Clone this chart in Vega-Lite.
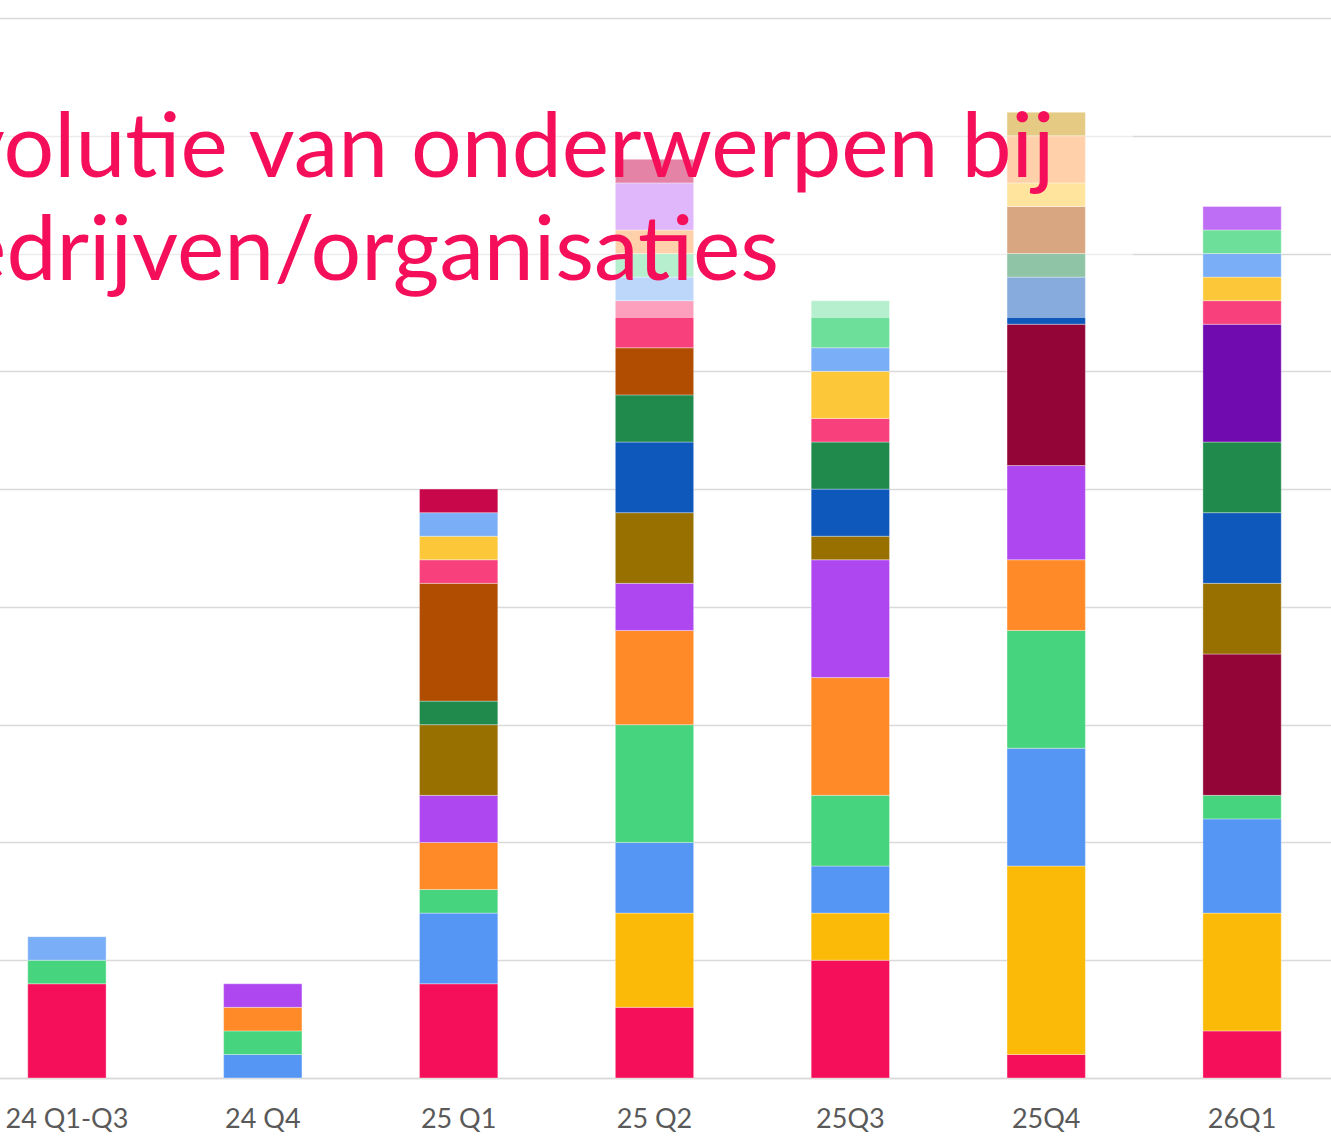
{
  "$schema": "https://vega.github.io/schema/vega-lite/v6.json",
  "width": 1371,
  "height": 1060,
  "autosize": {"type": "none"},
  "padding": {"left": -31, "top": 18, "right": 0, "bottom": 65},
  "background": "white",
  "title": {
    "text": ["Evolutie van onderwerpen bij", "bedrijven/organisaties"],
    "anchor": "start",
    "frame": "group",
    "align": "left",
    "baseline": "alphabetic",
    "font": "Lato",
    "fontSize": 89.5,
    "fontWeight": "normal",
    "color": "#F50F5A",
    "lineHeight": 103,
    "offset": 0,
    "dx": -60,
    "dy": 351,
    "zindex": 1
  },
  "datasets": {
    "bars": [
      {"kwartaal": "24 Q1-Q3", "reeks": "Reeks 1", "nr": 1, "aantal": 4},
      {"kwartaal": "24 Q1-Q3", "reeks": "Reeks 4", "nr": 4, "aantal": 1},
      {"kwartaal": "24 Q1-Q3", "reeks": "Reeks 15", "nr": 15, "aantal": 1},

      {"kwartaal": "24 Q4", "reeks": "Reeks 3", "nr": 3, "aantal": 1},
      {"kwartaal": "24 Q4", "reeks": "Reeks 4", "nr": 4, "aantal": 1},
      {"kwartaal": "24 Q4", "reeks": "Reeks 5", "nr": 5, "aantal": 1},
      {"kwartaal": "24 Q4", "reeks": "Reeks 6", "nr": 6, "aantal": 1},

      {"kwartaal": "25 Q1", "reeks": "Reeks 1", "nr": 1, "aantal": 4},
      {"kwartaal": "25 Q1", "reeks": "Reeks 3", "nr": 3, "aantal": 3},
      {"kwartaal": "25 Q1", "reeks": "Reeks 4", "nr": 4, "aantal": 1},
      {"kwartaal": "25 Q1", "reeks": "Reeks 5", "nr": 5, "aantal": 2},
      {"kwartaal": "25 Q1", "reeks": "Reeks 6", "nr": 6, "aantal": 2},
      {"kwartaal": "25 Q1", "reeks": "Reeks 8", "nr": 8, "aantal": 3},
      {"kwartaal": "25 Q1", "reeks": "Reeks 10", "nr": 10, "aantal": 1},
      {"kwartaal": "25 Q1", "reeks": "Reeks 11", "nr": 11, "aantal": 5},
      {"kwartaal": "25 Q1", "reeks": "Reeks 13", "nr": 13, "aantal": 1},
      {"kwartaal": "25 Q1", "reeks": "Reeks 14", "nr": 14, "aantal": 1},
      {"kwartaal": "25 Q1", "reeks": "Reeks 15", "nr": 15, "aantal": 1},
      {"kwartaal": "25 Q1", "reeks": "Reeks 19", "nr": 19, "aantal": 1},

      {"kwartaal": "25 Q2", "reeks": "Reeks 1", "nr": 1, "aantal": 3},
      {"kwartaal": "25 Q2", "reeks": "Reeks 2", "nr": 2, "aantal": 4},
      {"kwartaal": "25 Q2", "reeks": "Reeks 3", "nr": 3, "aantal": 3},
      {"kwartaal": "25 Q2", "reeks": "Reeks 4", "nr": 4, "aantal": 5},
      {"kwartaal": "25 Q2", "reeks": "Reeks 5", "nr": 5, "aantal": 4},
      {"kwartaal": "25 Q2", "reeks": "Reeks 6", "nr": 6, "aantal": 2},
      {"kwartaal": "25 Q2", "reeks": "Reeks 8", "nr": 8, "aantal": 3},
      {"kwartaal": "25 Q2", "reeks": "Reeks 9", "nr": 9, "aantal": 3},
      {"kwartaal": "25 Q2", "reeks": "Reeks 10", "nr": 10, "aantal": 2},
      {"kwartaal": "25 Q2", "reeks": "Reeks 11", "nr": 11, "aantal": 2},
      {"kwartaal": "25 Q2", "reeks": "Reeks 13", "nr": 13, "aantal": 2},
      {"kwartaal": "25 Q2", "reeks": "Reeks 15", "nr": 15, "aantal": 1},
      {"kwartaal": "25 Q2", "reeks": "Reeks 16", "nr": 16, "aantal": 1},
      {"kwartaal": "25 Q2", "reeks": "Reeks 17", "nr": 17, "aantal": 1},
      {"kwartaal": "25 Q2", "reeks": "Reeks 18", "nr": 18, "aantal": 2},
      {"kwartaal": "25 Q2", "reeks": "Reeks 19", "nr": 19, "aantal": 1},

      {"kwartaal": "25Q3", "reeks": "Reeks 1", "nr": 1, "aantal": 5},
      {"kwartaal": "25Q3", "reeks": "Reeks 2", "nr": 2, "aantal": 2},
      {"kwartaal": "25Q3", "reeks": "Reeks 3", "nr": 3, "aantal": 2},
      {"kwartaal": "25Q3", "reeks": "Reeks 4", "nr": 4, "aantal": 3},
      {"kwartaal": "25Q3", "reeks": "Reeks 5", "nr": 5, "aantal": 5},
      {"kwartaal": "25Q3", "reeks": "Reeks 6", "nr": 6, "aantal": 5},
      {"kwartaal": "25Q3", "reeks": "Reeks 8", "nr": 8, "aantal": 1},
      {"kwartaal": "25Q3", "reeks": "Reeks 9", "nr": 9, "aantal": 2},
      {"kwartaal": "25Q3", "reeks": "Reeks 10", "nr": 10, "aantal": 2},
      {"kwartaal": "25Q3", "reeks": "Reeks 13", "nr": 13, "aantal": 1},
      {"kwartaal": "25Q3", "reeks": "Reeks 14", "nr": 14, "aantal": 2},
      {"kwartaal": "25Q3", "reeks": "Reeks 15", "nr": 15, "aantal": 1},
      {"kwartaal": "25Q3", "reeks": "Reeks 16", "nr": 16, "aantal": 2},

      {"kwartaal": "25Q4", "reeks": "Reeks 1", "nr": 1, "aantal": 1},
      {"kwartaal": "25Q4", "reeks": "Reeks 2", "nr": 2, "aantal": 8},
      {"kwartaal": "25Q4", "reeks": "Reeks 3", "nr": 3, "aantal": 5},
      {"kwartaal": "25Q4", "reeks": "Reeks 4", "nr": 4, "aantal": 5},
      {"kwartaal": "25Q4", "reeks": "Reeks 5", "nr": 5, "aantal": 3},
      {"kwartaal": "25Q4", "reeks": "Reeks 6", "nr": 6, "aantal": 4},
      {"kwartaal": "25Q4", "reeks": "Reeks 7", "nr": 7, "aantal": 6},
      {"kwartaal": "25Q4", "reeks": "Reeks 9", "nr": 9, "aantal": 2},
      {"kwartaal": "25Q4", "reeks": "Reeks 10", "nr": 10, "aantal": 1},
      {"kwartaal": "25Q4", "reeks": "Reeks 11", "nr": 11, "aantal": 2},
      {"kwartaal": "25Q4", "reeks": "Reeks 14", "nr": 14, "aantal": 1},
      {"kwartaal": "25Q4", "reeks": "Reeks 17", "nr": 17, "aantal": 2},
      {"kwartaal": "25Q4", "reeks": "Reeks 20", "nr": 20, "aantal": 1},

      {"kwartaal": "26Q1", "reeks": "Reeks 1", "nr": 1, "aantal": 2},
      {"kwartaal": "26Q1", "reeks": "Reeks 2", "nr": 2, "aantal": 5},
      {"kwartaal": "26Q1", "reeks": "Reeks 3", "nr": 3, "aantal": 4},
      {"kwartaal": "26Q1", "reeks": "Reeks 4", "nr": 4, "aantal": 1},
      {"kwartaal": "26Q1", "reeks": "Reeks 7", "nr": 7, "aantal": 6},
      {"kwartaal": "26Q1", "reeks": "Reeks 8", "nr": 8, "aantal": 3},
      {"kwartaal": "26Q1", "reeks": "Reeks 9", "nr": 9, "aantal": 3},
      {"kwartaal": "26Q1", "reeks": "Reeks 10", "nr": 10, "aantal": 3},
      {"kwartaal": "26Q1", "reeks": "Reeks 12", "nr": 12, "aantal": 5},
      {"kwartaal": "26Q1", "reeks": "Reeks 13", "nr": 13, "aantal": 1},
      {"kwartaal": "26Q1", "reeks": "Reeks 14", "nr": 14, "aantal": 1},
      {"kwartaal": "26Q1", "reeks": "Reeks 15", "nr": 15, "aantal": 1},
      {"kwartaal": "26Q1", "reeks": "Reeks 16", "nr": 16, "aantal": 1},
      {"kwartaal": "26Q1", "reeks": "Reeks 18", "nr": 18, "aantal": 1}
    ]
  },
  "layer": [
    {
      "data": {"name": "bars"},
      "mark": {"type": "bar", "stroke": "white", "strokeWidth": 0.7, "strokeOpacity": 0.5},
      "encoding": {
        "x": {
          "field": "kwartaal",
          "type": "nominal",
          "sort": ["24 Q1-Q3", "24 Q4", "25 Q1", "25 Q2", "25Q3", "25Q4", "26Q1"],
          "scale": {"paddingInner": 0.6, "paddingOuter": 0.3},
          "axis": {
            "title": null,
            "labelFont": "Lato",
            "labelFontSize": 27,
            "labelColor": "#595959",
            "labelAngle": 0,
            "ticks": false,
            "tickSize": 0,
            "labelPadding": 28,
            "domainColor": "#D9D9D9",
            "domainWidth": 1.5,
            "grid": false
          }
        },
        "y": {
          "field": "aantal",
          "type": "quantitative",
          "stack": "zero",
          "scale": {"domain": [0, 45], "nice": false},
          "axis": {
            "title": null,
            "labels": false,
            "ticks": false,
            "domain": false,
            "values": [0, 5, 10, 15, 20, 25, 30, 35, 40, 45],
            "gridColor": "#D9D9D9",
            "gridWidth": 1.5
          }
        },
        "color": {
          "field": "reeks",
          "type": "nominal",
          "scale": {
            "domain": ["Reeks 1", "Reeks 2", "Reeks 3", "Reeks 4", "Reeks 5", "Reeks 6", "Reeks 7", "Reeks 8", "Reeks 9", "Reeks 10", "Reeks 11", "Reeks 12", "Reeks 13", "Reeks 14", "Reeks 15", "Reeks 16", "Reeks 17", "Reeks 18", "Reeks 19", "Reeks 20"],
            "range": ["#F50F5A", "#FBBA07", "#5596F5", "#47D47E", "#FF8A27", "#AE47F0", "#930537", "#977000", "#0E57BB", "#1F8A4C", "#B04D00", "#700CAF", "#F8407C", "#FCC83A", "#7AAEF7", "#6DDF9A", "#FFA152", "#BE6EF4", "#C8074A", "#C99506"]
          },
          "legend": null
        },
        "order": {"field": "nr", "type": "quantitative"}
      }
    },
    {
      "data": {"values": [{"vak": "titelvak"}]},
      "mark": {"type": "rect", "color": "white", "opacity": 0.5},
      "encoding": {
        "x": {"datum": 0, "type": "quantitative", "scale": {"domain": [0, 1], "nice": false}, "axis": null},
        "x2": {"datum": 0.849},
        "y": {"datum": 32.26, "type": "quantitative"},
        "y2": {"datum": 41.52}
      }
    }
  ],
  "resolve": {"scale": {"x": "independent"}},
  "config": {"view": {"stroke": null}}
}
